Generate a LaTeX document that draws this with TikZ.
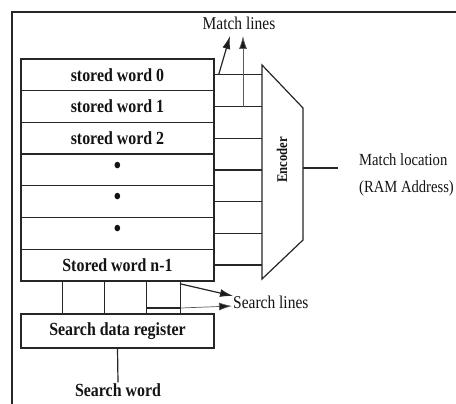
\documentclass[tikz,border=0pt]{standalone}
\usepackage{fontspec}
\setmainfont{Liberation Serif}
\newfontfamily\narrowfont[FakeStretch=0.86]{Liberation Serif}
\usetikzlibrary{arrows.meta}

\newcommand{\celldot}{\raisebox{5pt}{\fontsize{24}{24}\selectfont\textbullet}}

\begin{document}
\begin{tikzpicture}[x=1pt,y=-1pt,
  wire/.style={draw=black!85, line width=1.2pt},
  thinwire/.style={draw=black!65, line width=0.7pt},
  tip/.style={-{Latex[length=13pt,width=8pt,fill=black!90]}},
  cell/.style={wire, minimum width=193pt, minimum height=31.7pt, inner sep=0pt,
    text=black!92, font=\narrowfont\bfseries\fontsize{18.5}{19}\selectfont},
  lbl/.style={inner sep=1pt, text=black!92, font=\narrowfont\fontsize{18}{19}\selectfont},
  boldlbl/.style={lbl, font=\narrowfont\bfseries\fontsize{18.5}{19}\selectfont},
]
\useasboundingbox (0,0) rectangle (456,404);
\clip (0,0) rectangle (456,404);
\fill[white] (0,0) rectangle (456,404);

% outer frame
\draw[wire] (470,12) -- (12,12) -- (12,420);

% memory array rows
\node[cell] (r0) at (117.5,74.85)  {stored word 0};
\node[cell] (r1) at (117.5,106.55) {stored word 1};
\node[cell] (r2) at (117.5,138.25) {stored word 2};
\node[cell] (r3) at (117.5,169.95) {\celldot};
\node[cell] (r4) at (117.5,201.65) {\celldot};
\node[cell] (r5) at (117.5,233.35) {\celldot};
\node[cell] (r6) at (117.5,265.05) {Stored word n-1};

% encoder
\coordinate (eA) at (262,65);
\coordinate (eB) at (303,108);
\coordinate (eC) at (303,240);
\coordinate (eD) at (262,279);
\draw[wire] (eA) -- (eB) -- (eC) -- (eD) -- cycle;
\node[rotate=90, inner sep=0pt, text=black!92,
  font=\narrowfont\bfseries\fontsize{14.8}{15}\selectfont] (enc) at (282,160) {Encoder};

% match lines
\foreach \i in {0,...,6}
  \draw[wire] (r\i.east) -- (r\i.east -| eA);

% match lines label and arrows
\node[lbl] (ml) at (239,23) {Match lines};
\coordinate (mlA) at (230,36);
\coordinate (mlB) at (243,36);
\draw[wire, tip] ([xshift=4pt]r0.east) -- (mlA);
\draw[thinwire, tip] (r1.east -| mlB) -- (mlB);

% encoder output
\coordinate (encR) at (303,168);
\coordinate (out) at (338,168);
\draw[wire] (encR) -- (out);
\node[lbl, anchor=west, font=\narrowfont\fontsize{17}{18}\selectfont] (loc) at (358,160) {Match location};
\node[lbl, anchor=west, font=\narrowfont\fontsize{17}{18}\selectfont] (ram) at (358,188) {(RAM Address)};

% search data register
\node[cell, minimum height=34pt] (sdr) at (117.5,331) {Search data register};

% search lines
\foreach \d in {42,84,126,160}
  \draw[wire] ([xshift=\d pt]r6.south west) -- ([xshift=\d pt]sdr.north west);
\coordinate (sA) at (147,308);
\coordinate (sB) at (181,308);
\coordinate (sC) at (181,284);
\coordinate (slT1) at (233,296);
\coordinate (slT2) at (232,306);
\draw[wire] (sA) -- (sB);
\draw[wire, tip] (sC) -- (slT1);
\draw[thinwire, tip] (sB) -- (slT2);
\node[lbl, anchor=west] (sl) at (232,302) {Search lines};

% search word input
\node[boldlbl] (sw) at (118,390) {Search word};
\draw[wire] (sdr.south) -- (sw.north);
\end{tikzpicture}
\end{document}
